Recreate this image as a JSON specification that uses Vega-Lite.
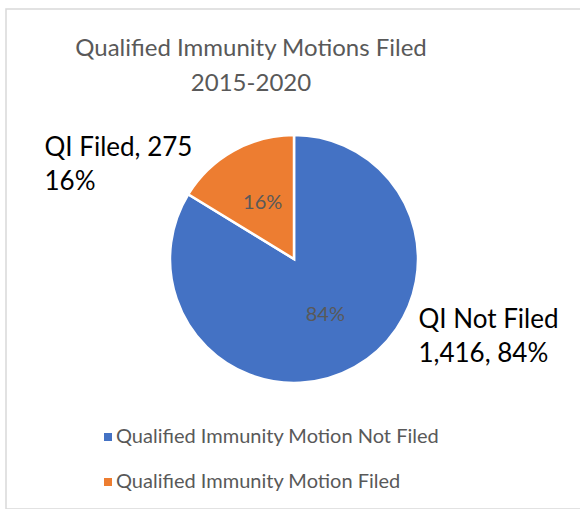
{
  "$schema": "https://vega.github.io/schema/vega-lite/v6.json",
  "width": 576,
  "height": 500,
  "autosize": {"type": "none"},
  "padding": {"left": 6, "top": 9, "right": 0, "bottom": 0},
  "background": "white",
  "view": {"stroke": "#d9d9d9", "strokeWidth": 1.5, "fill": "white"},
  "config": {
    "view": {"stroke": "#d9d9d9", "strokeWidth": 1.5},
    "font": "Lato"
  },
  "title": {
    "text": ["Qualified Immunity Motions Filed", "2015-2020"],
    "color": "#595959",
    "fontSize": 24,
    "fontWeight": "normal",
    "font": "Lato",
    "lineHeight": 35,
    "anchor": "middle",
    "dx": -43,
    "offset": -87
  },
  "data": {
    "values": [
      {"category": "Qualified Immunity Motion Not Filed", "value": 1416, "ord": 1, "pct": "84%", "outer": "QI Not Filed\n1,416, 84%"},
      {"category": "Qualified Immunity Motion Filed", "value": 275, "ord": 2, "pct": "16%", "outer": "QI Filed, 275\n16%"}
    ]
  },
  "layer": [
    {
      "mark": {"type": "arc", "outerRadius": 124, "stroke": "white", "strokeWidth": 2.5},
      "encoding": {
        "theta": {"field": "value", "type": "quantitative", "stack": true},
        "order": {"field": "ord", "type": "quantitative"},
        "color": {
          "field": "category",
          "type": "nominal",
          "scale": {
            "domain": ["Qualified Immunity Motion Not Filed", "Qualified Immunity Motion Filed"],
            "range": ["#4472C4", "#ED7D31"]
          },
          "legend": {
            "title": null,
            "orient": "none",
            "legendX": 92,
            "legendY": 418,
            "symbolType": "square",
            "symbolSize": 64,
            "symbolStrokeWidth": 0,
            "labelFontSize": 20,
            "labelColor": "#595959",
            "labelFont": "Lato",
            "labelOffset": -2,
            "rowPadding": 25,
            "labelLimit": 500
          }
        }
      }
    },
    {
      "mark": {"type": "text", "radius": 64, "fontSize": 20, "color": "#595959", "font": "Lato"},
      "encoding": {
        "theta": {"field": "value", "type": "quantitative", "stack": true},
        "order": {"field": "ord", "type": "quantitative"},
        "text": {"field": "pct", "type": "nominal"}
      }
    },
    {
      "mark": {"type": "text", "radius": 140, "fontSize": 26, "color": "black", "font": "Lato", "align": "left", "baseline": "middle", "lineBreak": "\n", "lineHeight": 34,
        "dx": {"expr": "datum.ord == 1 ? 56 : -181"},
        "dy": {"expr": "datum.ord == 1 ? -61 : 11"}},
      "encoding": {
        "theta": {"field": "value", "type": "quantitative", "stack": true},
        "order": {"field": "ord", "type": "quantitative"},
        "text": {"field": "outer", "type": "nominal"}
      }
    }
  ]
}
